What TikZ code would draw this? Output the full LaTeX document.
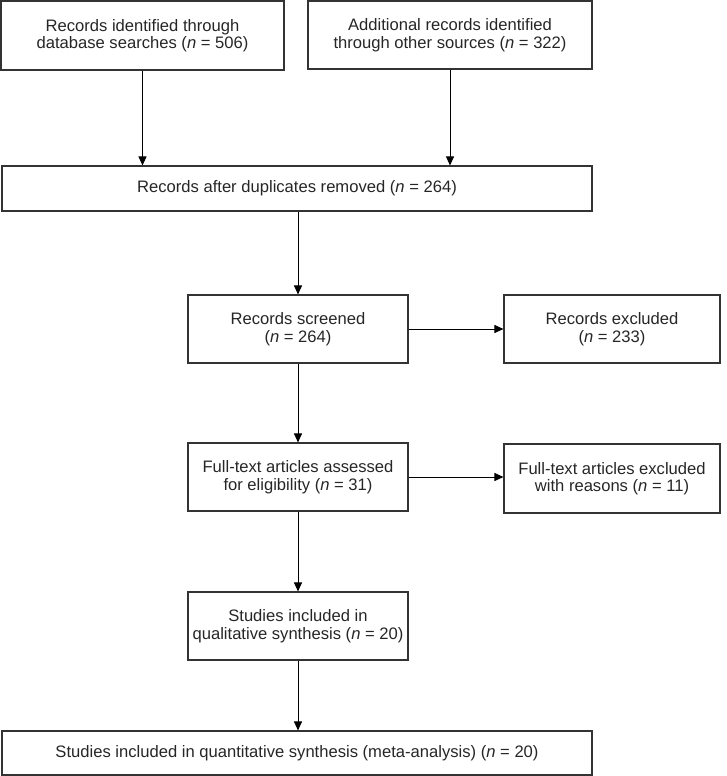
\documentclass[tikz,border=0pt]{standalone}
\usepackage{fontspec}
\setmainfont{Liberation Sans}
\usetikzlibrary{arrows.meta}
\begin{document}
\begin{tikzpicture}[x=1pt,y=-1pt,
  box/.style={draw=black!80, line width=1.1pt, align=center, inner sep=0pt,
    font=\fontsize{16.6}{17.5}\selectfont, text=black!85},
  arr/.style={-{Triangle[length=9pt,width=8pt]}, line width=0.9pt, black}]
\useasboundingbox (0,0) rectangle (726,776);
\node[box, minimum width=283pt, minimum height=69pt] (a) at (142.5,35.5)
  {Records identified through\\database searches (\textit{n} = 506)};
\node[box, minimum width=284pt, minimum height=68pt] (b) at (450,35)
  {Additional records identified\\through other sources (\textit{n} = 322)};
\node[box, minimum width=590pt, minimum height=45pt] (c) at (297,188.5)
  {Records after duplicates removed (\textit{n} = 264)};
\node[box, minimum width=220pt, minimum height=68pt] (d) at (298,329)
  {Records screened\\(\textit{n} = 264)};
\node[box, minimum width=216pt, minimum height=68pt] (e) at (612,329)
  {Records excluded\\(\textit{n} = 233)};
\node[box, minimum width=220pt, minimum height=68pt] (f) at (298,477)
  {Full-text articles assessed\\for eligibility (\textit{n} = 31)};
\node[box, minimum width=216pt, minimum height=69pt] (g) at (612,478.5)
  {Full-text articles excluded\\with reasons (\textit{n} = 11)};
\node[box, minimum width=220pt, minimum height=68pt] (h) at (298,626)
  {Studies included in\\qualitative synthesis (\textit{n} = 20)};
\node[box, minimum width=590pt, minimum height=44pt] (i) at (297,753)
  {Studies included in quantitative synthesis (meta-analysis) (\textit{n} = 20)};
\draw[arr] (a.south) -- (a.south |- c.north);
\draw[arr] (b.south) -- (b.south |- c.north);
\draw[arr] (c.south -| d.north) -- (d.north);
\draw[arr] (d.east) -- (e.west);
\draw[arr] (d.south) -- (f.north);
\draw[arr] (f.east) -- (f.east -| g.west);
\draw[arr] (f.south) -- (h.north);
\draw[arr] (h.south) -- (h.south |- i.north);
\end{tikzpicture}
\end{document}
